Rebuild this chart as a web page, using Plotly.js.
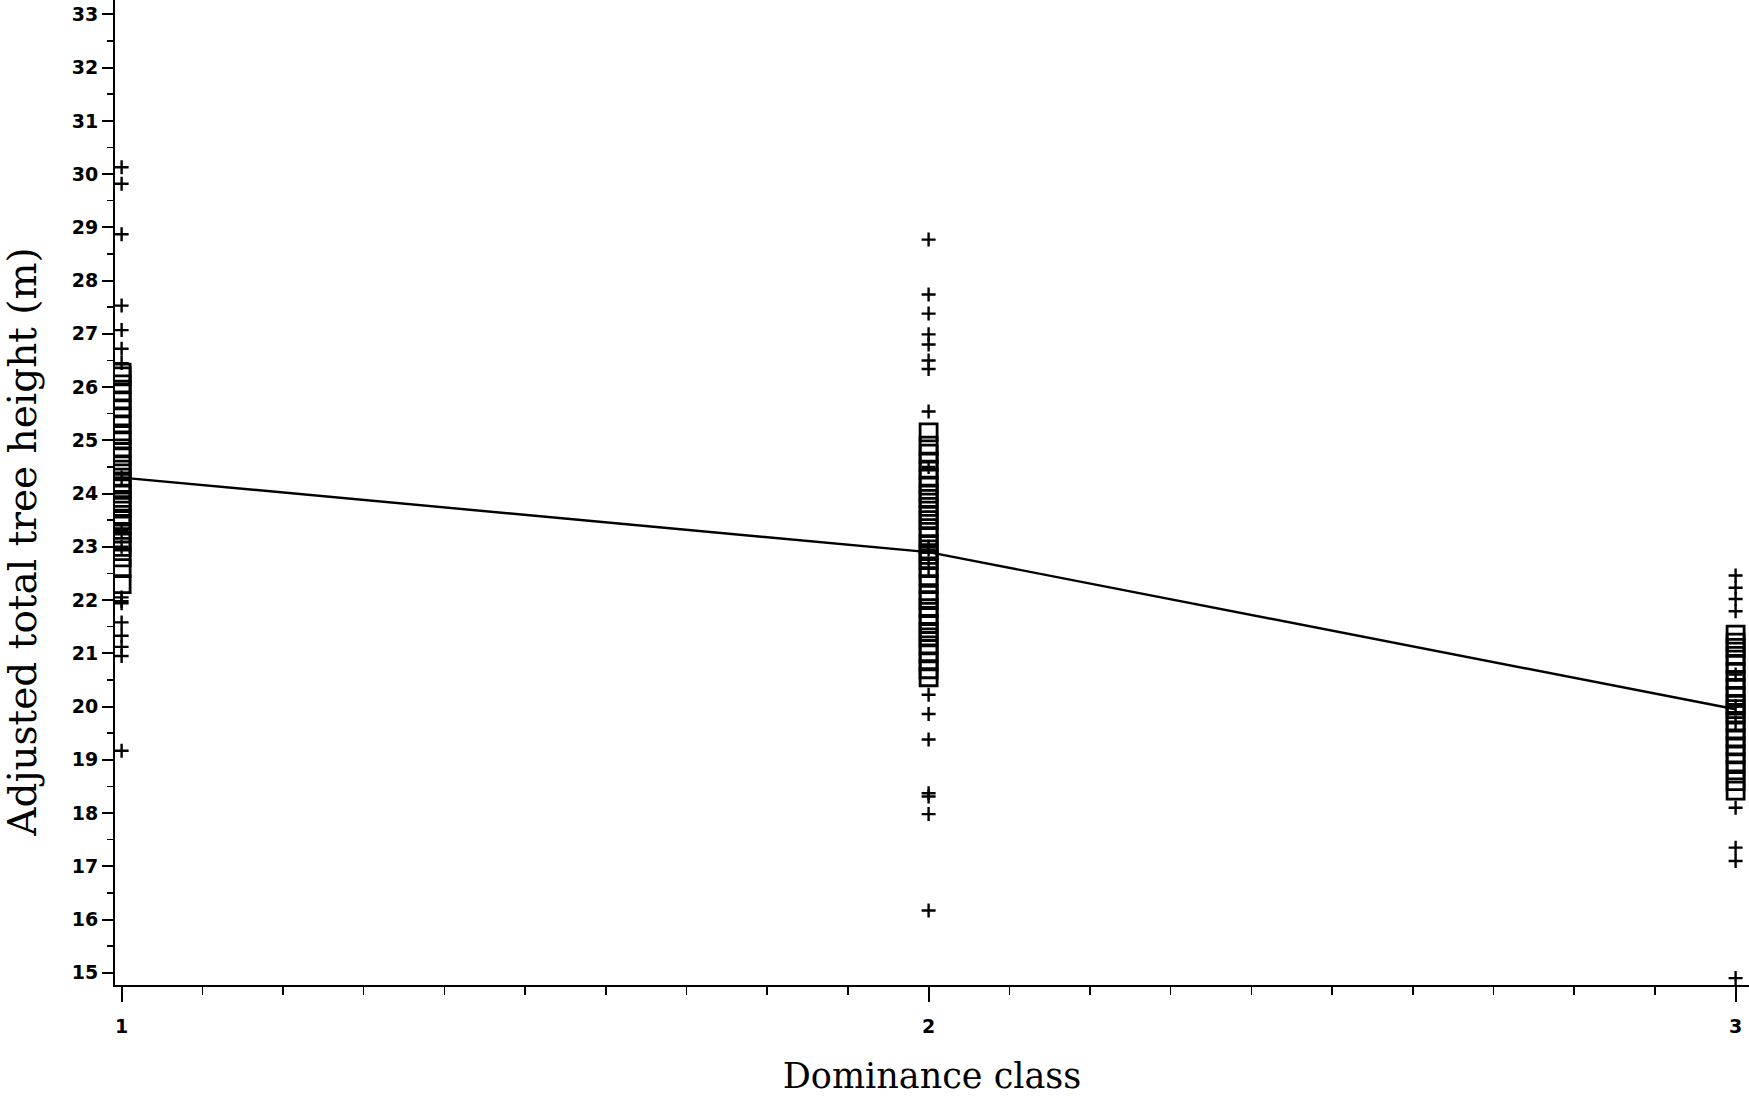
<!DOCTYPE html>
<html>
<head>
<meta charset="utf-8">
<script src="https://cdn.plot.ly/plotly-3.0.1.min.js"></script>
<style>html,body{margin:0;padding:0;background:#fff;}#chart{width:1749px;height:1096px;}</style>
</head>
<body>
<div id="chart"></div>
<script>
// Dominance classes
const classes = [1, 2, 3];
// Class means (fitted line)
const meanHeight = [24.3, 22.9, 19.95];

// Individual observations ("+") per class
const plusClass1 = [30.13, 29.82, 28.87, 27.53, 27.07, 26.72, 26.45, 24.3, 23.3, 23.0, 22.05, 21.98, 21.94, 21.58, 21.33, 21.12, 20.95, 19.17];
const plusClass2 = [28.77, 27.74, 27.38, 26.99, 26.80, 26.50, 26.34, 25.54, 24.5, 23.0, 22.95, 22.6, 20.22, 19.86, 19.38, 18.37, 18.31, 17.98, 16.17];
const plusClass3 = [22.46, 22.23, 22.02, 21.79, 20.6, 20.0, 19.7, 18.10, 17.35, 17.10, 14.90];

// Boxed observations ("□") per class
const boxClass1 = [22.3, 22.6, 22.8, 23.0, 23.1, 23.25, 23.4, 23.5, 23.6, 23.75, 23.85, 24.0, 24.1, 24.2, 24.3, 24.45, 24.55, 24.7, 24.85, 25.0, 25.1, 25.3, 25.45, 25.6, 25.75, 25.9, 26.05, 26.2, 26.27];
const boxClass2 = [20.55, 20.7, 20.85, 21.0, 21.15, 21.3, 21.4, 21.55, 21.7, 21.85, 22.0, 22.1, 22.3, 22.45, 22.6, 22.75, 22.85, 22.95, 23.05, 23.2, 23.35, 23.5, 23.6, 23.75, 23.9, 24.0, 24.15, 24.3, 24.45, 24.6, 24.75, 24.9, 25.15];
const boxClass3 = [18.42, 18.6, 18.8, 18.95, 19.1, 19.25, 19.4, 19.55, 19.7, 19.85, 19.95, 20.05, 20.2, 20.35, 20.5, 20.65, 20.8, 20.95, 21.1, 21.2, 21.35];

const yTickVals = [15,16,17,18,19,20,21,22,23,24,25,26,27,28,29,30,31,32,33];
const xTickVals = [1, 2, 3];

function rep(v, n) { return Array(n).fill(v); }

const plusX = [].concat(rep(classes[0], plusClass1.length), rep(classes[1], plusClass2.length), rep(classes[2], plusClass3.length));
const plusY = [].concat(plusClass1, plusClass2, plusClass3);
const boxX = [].concat(rep(classes[0], boxClass1.length), rep(classes[1], boxClass2.length), rep(classes[2], boxClass3.length));
const boxY = [].concat(boxClass1, boxClass2, boxClass3);

const traces = [
  {
    x: boxX, y: boxY, type: 'scatter', mode: 'markers',
    marker: {symbol: 'square-open', size: 17, color: '#000', line: {width: 2.8, color: '#000'}},
    hoverinfo: 'x+y'
  },
  {
    x: plusX, y: plusY, type: 'scatter', mode: 'markers',
    marker: {symbol: 'cross-thin-open', size: 10, color: '#000', line: {width: 2.4, color: '#000'}},
    hoverinfo: 'x+y'
  },
  {
    x: classes, y: meanHeight, type: 'scatter', mode: 'lines',
    line: {color: '#000', width: 2.4},
    hoverinfo: 'x+y'
  }
];

const tickFont = {family: 'DejaVu Sans', size: 19, color: '#000', weight: 'bold'};

const layout = {
  width: 1749, height: 1096,
  margin: {l: 115, r: 0, t: 0, b: 111, pad: 0},
  paper_bgcolor: '#fff', plot_bgcolor: '#fff',
  showlegend: false,
  xaxis: {
    range: [0.9918, 3.0166],
    tickvals: xTickVals, ticktext: xTickVals.map(String),
    ticks: 'outside', ticklen: 15, tickwidth: 2, tickcolor: '#000',
    ticklabelstandoff: 8,
    minor: {dtick: 0.1, tick0: 1, ticks: 'outside', ticklen: 8, tickwidth: 1.5, tickcolor: '#000', showgrid: false},
    showline: true, linewidth: 2, linecolor: '#000',
    showgrid: false, zeroline: false,
    tickfont: tickFont,
    title: {text: 'Dominance class', font: {family: 'DejaVu Serif', size: 35, color: '#000'}, standoff: 38}
  },
  yaxis: {
    range: [14.77, 33.27],
    tickvals: yTickVals, ticktext: yTickVals.map(String),
    ticks: 'outside', ticklen: 11, tickwidth: 2, tickcolor: '#000',
    minor: {dtick: 0.5, tick0: 15, ticks: 'outside', ticklen: 6, tickwidth: 1.5, tickcolor: '#000', showgrid: false},
    showline: true, linewidth: 2, linecolor: '#000',
    showgrid: false, zeroline: false,
    tickfont: tickFont
  },
  annotations: [
    {
      text: 'Adjusted total tree height (m)',
      xref: 'paper', yref: 'paper',
      x: 0, y: 0.45,
      xanchor: 'center', yanchor: 'middle',
      xshift: -92,
      textangle: -90, showarrow: false,
      font: {family: 'DejaVu Serif', size: 39, color: '#000'}
    }
  ]
};

Plotly.newPlot('chart', traces, layout, {displayModeBar: false, staticPlot: true});
</script>
</body>
</html>
